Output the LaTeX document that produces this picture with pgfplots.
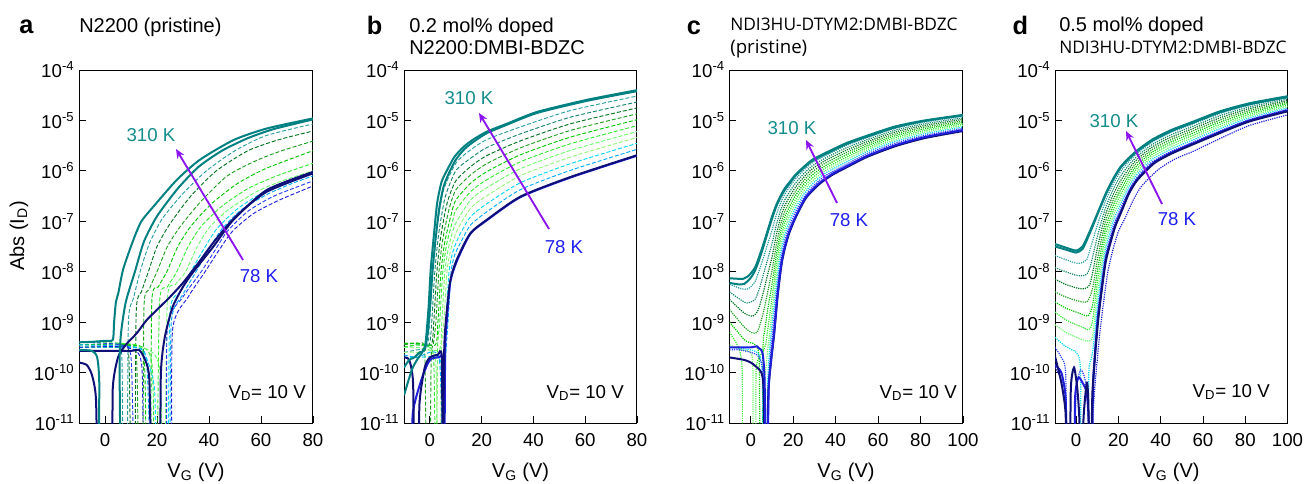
\documentclass[border=0pt]{standalone}
\usepackage{fontspec}
\setmainfont{Liberation Sans}
\newfontfamily\osans{Open Sans}
\usepackage{pgfplots}
\pgfplotsset{compat=1.18}
\usetikzlibrary{arrows.meta}
% y values are log10(|I_D| / A)
\definecolor{cT}{RGB}{0,128,128}
\definecolor{cT1}{RGB}{40,160,160}
\definecolor{cT2}{RGB}{20,135,110}
\definecolor{cDG}{RGB}{0,115,30}
\definecolor{cG}{RGB}{30,160,30}
\definecolor{cG2}{RGB}{0,200,0}
\definecolor{cL}{RGB}{50,235,50}
\definecolor{cL2}{RGB}{110,250,110}
\definecolor{cL3}{RGB}{150,245,120}
\definecolor{cC}{RGB}{0,215,240}
\definecolor{cC2}{RGB}{0,170,255}
\definecolor{cB}{RGB}{40,60,255}
\definecolor{cB2}{RGB}{30,30,220}
\definecolor{cN}{RGB}{15,15,120}
\definecolor{cArr}{RGB}{140,20,240}
\definecolor{cTxtT}{RGB}{20,140,140}
\definecolor{cTxtB}{RGB}{30,30,240}
\tikzset{
  sol/.style={line width=1.5pt},
  dsh/.style={line width=0.7pt, dash pattern=on 3pt off 1.5pt},
  dot/.style={line width=0.9pt, dash pattern=on 0.9pt off 0.8pt},
  lab/.style={inner sep=0pt, font=\fontsize{14}{16}\selectfont},
}
\pgfplotsset{panel/.style={
  scale only axis, height=264.75pt, xmin=-10, ymin=-11, ymax=-4,
  ytick={-11,-10,...,-4},
  yticklabels={10\textsuperscript{-11},10\textsuperscript{-10},10\textsuperscript{-9},10\textsuperscript{-8},10\textsuperscript{-7},10\textsuperscript{-6},10\textsuperscript{-5},10\textsuperscript{-4}},
  tick align=inside, xtick pos=left, ytick pos=left,
  major tick length=5pt, minor tick num=0,
  tick style={black, line width=0.7pt},
  axis line style={black, line width=0.75pt},
  tick label style={font=\fontsize{14}{16}\selectfont, text=black},
  xticklabel style={yshift=-4pt},
  no markers, anchor=south west,
  every axis plot/.append style={smooth, tension=0.4},
}}
\begin{document}
\begin{tikzpicture}[x=0.75pt,y=0.75pt]
\path[use as bounding box] (0,0) rectangle (1307,483);
%%%%%%%%%%%%%%%%%%%% panel a
\begin{axis}[panel, at={(59.25pt,45pt)}, width=175.5pt, xmax=80, xtick={0,20,40,60,80}, xticklabels={0,20,40,60,80}]
\addplot[cT1,dsh] coordinates {(-10,-9.45)(0,-9.45)(5,-9.42)(6.5,-9.7)(7,-12)(8.5,-12)(9,-9.0)(11,-8.52)(13.5,-8.0)(17,-7.45)(22,-6.95)(30,-6.45)(39,-6.0)(50,-5.6)(62,-5.3)(80,-5.07)};
\addplot[cDG,dsh] coordinates {(-10,-9.5)(5,-9.5)(9,-9.55)(10,-12)(11.5,-12)(12,-8.8)(14,-8.4)(16.7,-8.0)(20,-7.5)(25,-7.05)(33,-6.5)(42.8,-6.0)(55,-5.6)(67,-5.38)(80,-5.21)};
\addplot[cG,dsh] coordinates {(-10,-9.5)(8,-9.48)(12,-9.6)(13,-12)(14.5,-12)(15,-8.7)(17,-8.35)(20,-8.0)(24,-7.5)(29,-7.1)(37,-6.6)(47,-6.1)(58,-5.8)(68,-5.6)(80,-5.41)};
\addplot[cG2,dsh] coordinates {(-10,-9.45)(10,-9.45)(15,-9.7)(16,-12)(17.5,-12)(18,-8.6)(20.5,-8.3)(23.8,-8.0)(28,-7.5)(33,-7.1)(41,-6.65)(51,-6.25)(62,-5.95)(80,-5.6)};
\addplot[cL,dsh] coordinates {(-10,-9.4)(12,-9.45)(18,-9.8)(19,-12)(20,-12)(21,-8.6)(24,-8.3)(27.6,-8.0)(32,-7.5)(37,-7.1)(45,-6.7)(55,-6.35)(66,-6.1)(80,-5.85)};
\addplot[cL2,dsh] coordinates {(-10,-9.5)(14,-9.5)(21,-9.9)(22,-12)(23,-12)(24,-8.55)(27,-8.26)(31,-8.0)(35.5,-7.5)(40.5,-7.1)(48,-6.75)(58,-6.42)(68,-6.2)(80,-6.0)};
\addplot[cC,dsh] coordinates {(-10,-9.5)(10,-9.5)(15,-9.6)(19,-10.3)(20,-12)(24,-12)(25,-8.8)(29,-8.4)(33,-8.0)(38,-7.55)(43,-7.15)(51,-6.75)(61,-6.42)(70,-6.22)(80,-6.05)};
\addplot[cC2,dsh] coordinates {(-10,-9.45)(12,-9.5)(16,-9.8)(18,-12)(24.5,-12)(25.5,-9.0)(30,-8.45)(35,-8.0)(40,-7.55)(45,-7.15)(53,-6.75)(63,-6.45)(72,-6.25)(80,-6.1)};
\addplot[cB,dsh] coordinates {(-10,-9.4)(6,-9.45)(10,-9.7)(12,-12)(23,-12)(24,-9.1)(30,-8.5)(37,-8.0)(42,-7.6)(47,-7.2)(55,-6.8)(65,-6.5)(80,-6.2)};
\addplot[cB2,dsh] coordinates {(-10,-9.5)(8,-9.5)(14,-9.8)(15.5,-12)(25,-12)(26,-9.15)(32,-8.5)(38.5,-8.0)(43.5,-7.6)(49,-7.2)(57,-6.85)(67,-6.58)(80,-6.3)};
\addplot[cN,sol] coordinates {(-10,-9.57)(0,-9.57)(10,-9.57)(13,-9.55)(15,-9.7)(17,-10.1)(18,-12)(21,-12)(21.5,-10.0)(23,-9.3)(26,-8.7)(30,-8.3)(34,-8.0)(41.7,-7.5)(49.4,-6.97)(62.2,-6.38)(80,-6.02)};
\addplot[cN,sol] coordinates {(-10,-9.8)(-7,-9.85)(-5,-10.05)(-3.5,-10.5)(-2.5,-12)(2.5,-12)(3,-10.3)(5,-9.7)(8,-9.45)(12.2,-9.22)(16,-8.96)(19.9,-8.76)(25,-8.5)(30,-8.22)(36,-7.82)(42,-7.4)(50,-6.92)(62,-6.42)(80,-6.05)};
\addplot[cT,sol] coordinates {(-10,-9.55)(-5,-9.57)(-3,-9.7)(-2.2,-10.2)(-1.9,-12)(5.4,-12)(5.6,-9.8)(6.2,-9.2)(8,-8.6)(11.5,-8.0)(15,-7.4)(20,-6.9)(28,-6.35)(36,-5.92)(45,-5.6)(55,-5.35)(65,-5.17)(80,-4.98)};
\addplot[cT,sol] coordinates {(-10,-9.40)(-5,-9.39)(0,-9.37)(3,-9.35)(3.5,-9.0)(4.2,-8.6)(5.1,-8.43)(7,-7.95)(10.9,-7.37)(14,-7.0)(18.6,-6.71)(27.6,-6.18)(36.5,-5.78)(49.4,-5.39)(62.2,-5.16)(80,-4.96)};
\end{axis}
%%%%%%%%%%%%%%%%%%%% panel b
\begin{axis}[panel, at={(303pt,45pt)}, width=174.75pt, xmax=80, xtick={0,20,40,60,80}, xticklabels={0,20,40,60,80}]
\addplot[cT1,dsh] coordinates {(-10,-9.6)(-5,-9.55)(-1.1,-9.5)(-0.1,-9.0)(1.1,-8.0)(2.6,-7.2)(5.1,-6.41)(10,-5.85)(15.7,-5.585)(22,-5.379)(35,-5.128)(54.4,-4.802)(80,-4.517)};
\addplot[cT2,dsh] coordinates {(-10,-9.5)(-5,-9.45)(-0.3,-9.45)(0.7,-9.0)(1.9,-8.0)(3.4,-7.25)(5.9,-6.52)(10,-6.0)(15.7,-5.751)(22,-5.538)(35,-5.266)(54.4,-4.934)(80,-4.635)};
\addplot[cDG,dsh] coordinates {(-10,-9.42)(-5,-9.42)(0.5,-9.45)(1.5,-9.0)(2.7,-8.0)(4.2,-7.3)(6.7,-6.63)(10,-6.2)(15.7,-5.916)(22,-5.697)(35,-5.405)(54.4,-5.065)(80,-4.752)};
\addplot[cG,dsh] coordinates {(-10,-9.45)(-4,-9.42)(-2,-9.6)(-1.3,-12)(0,-12)(0.5,-9.7)(1.3,-9.45)(2.3,-9.0)(3.5,-8.0)(5.0,-7.35)(7.5,-6.74)(10,-6.38)(15.7,-6.082)(22,-5.856)(35,-5.543)(54.4,-5.197)(80,-4.869)};
\addplot[cG2,dsh] coordinates {(-10,-9.42)(-5,-9.42)(2.1,-9.45)(3.1,-9.0)(4.3,-8.0)(5.8,-7.4)(8.3,-6.85)(10,-6.58)(15.7,-6.247)(22,-6.015)(35,-5.681)(54.4,-5.329)(80,-4.986)};
\addplot[cL,dsh] coordinates {(-10,-9.5)(-5,-9.45)(0,-9.5)(1.5,-9.8)(2.2,-12)(2.6,-12)(2.9,-9.6)(3.8,-9.0)(5.0,-8.0)(6.5,-7.45)(9.0,-6.95)(10,-6.78)(15.7,-6.413)(22,-6.175)(35,-5.819)(54.4,-5.461)(80,-5.104)};
\addplot[cL2,dsh] coordinates {(-10,-9.5)(-5,-9.5)(3.6,-9.55)(4.6,-9.0)(5.8,-8.0)(7.3,-7.5)(9.8,-7.06)(15.7,-6.578)(22,-6.334)(35,-5.957)(54.4,-5.593)(80,-5.221)};
\addplot[cL3,dsh] coordinates {(-10,-9.6)(-5,-9.6)(2,-9.7)(3,-12)(4,-12)(4.4,-9.6)(5.4,-9.0)(6.6,-8.0)(8.1,-7.55)(10.6,-7.17)(15.7,-6.744)(22,-6.493)(35,-6.095)(54.4,-5.725)(80,-5.338)};
\addplot[cC,dsh] coordinates {(-10,-9.7)(-5,-9.7)(3,-9.7)(4.6,-10.0)(5.0,-12)(5.4,-12)(5.6,-9.8)(6.2,-9.0)(7.4,-8.0)(8.9,-7.6)(11.4,-7.28)(15.7,-6.909)(22,-6.652)(35,-6.234)(54.4,-5.856)(80,-5.455)};
\addplot[cC2,dsh] coordinates {(-10,-9.65)(-5,-9.7)(3.5,-9.7)(5.0,-12)(5.5,-12)(5.8,-10.0)(7.0,-9.0)(8.2,-8.0)(9.7,-7.65)(12.2,-7.39)(15.7,-7.075)(22,-6.811)(35,-6.372)(54.4,-5.988)(80,-5.573)};
\addplot[cB2,sol] coordinates {(-10,-12)(-7,-12)(-6.6,-10.8)(-3,-10.1)(0,-9.75)(3.5,-9.7)(5.0,-9.8)(5.3,-12)(5.6,-12)(5.9,-9.6)(6.5,-9.0)(7.9,-8.2)(10.5,-7.78)(15.6,-7.25)(22,-6.98)(35,-6.52)(54.4,-6.13)(80,-5.70)};
\addplot[cN,sol] coordinates {(-10,-9.7)(-8,-9.75)(-6.5,-10.2)(-6,-12)(-4.5,-12)(-4,-10.6)(-2,-9.9)(0,-9.7)(3,-9.65)(4.6,-9.7)(4.9,-12)(5.2,-12)(5.4,-10.0)(5.8,-9.22)(7.7,-8.23)(10.3,-7.77)(15.6,-7.24)(22,-6.97)(35,-6.51)(54.4,-6.12)(80,-5.69)};
\addplot[cT,sol] coordinates {(-10,-9.9)(-8,-9.75)(-6,-9.7)(-4,-9.6)(-2,-9.55)(-0.8,-9.2)(0.2,-8.6)(1,-8.0)(2.2,-7.35)(3.6,-6.75)(5.2,-6.33)(7.3,-6.05)(10,-5.78)(13.5,-5.56)(17.5,-5.40)(22.1,-5.25)(30,-5.08)(41.5,-4.85)(60.8,-4.61)(80,-4.42)};
\addplot[cT,sol] coordinates {(-10,-10.45)(-7,-9.95)(-5,-9.75)(-3,-9.6)(-1.7,-9.42)(-0.5,-8.7)(0.3,-7.97)(1.5,-7.3)(2.8,-6.64)(4.5,-6.22)(6.7,-5.98)(9.5,-5.72)(13.1,-5.52)(17,-5.37)(22.1,-5.22)(30,-5.06)(41.5,-4.83)(60.8,-4.59)(80,-4.40)};
\end{axis}
%%%%%%%%%%%%%%%%%%%% panel c
\begin{axis}[panel, at={(547.125pt,45pt)}, width=175.1pt, xmax=100, xtick={0,20,40,60,80,100}, xticklabels={0,20,40,60,80,100}]
\addplot[cT1,dot] coordinates {(-10,-8.25)(-5,-8.33)(-2,-8.35)(0,-8.3)(2,-8.2)(4,-7.98)(6,-7.72)(8,-7.45)(10,-7.18)(12,-6.88)(14,-6.645)(16,-6.465)(18,-6.34)(21,-6.163)(25,-5.988)(29,-5.84)(35,-5.70)(45,-5.497)(55,-5.34)(68,-5.157)(82,-5.033)(100,-4.92)};
\addplot[cT2,dot] coordinates {(-10,-8.4)(-5,-8.55)(-2,-8.62)(0,-8.6)(2,-8.55)(4,-8.35)(6,-8.05)(8,-7.75)(10,-7.448)(12,-7.084)(14,-6.79)(16,-6.58)(18,-6.436)(21,-6.246)(25,-6.056)(29,-5.90)(35,-5.75)(45,-5.544)(55,-5.38)(68,-5.194)(82,-5.066)(100,-4.95)};
\addplot[cDG,dot] coordinates {(-10,-8.55)(-5,-8.75)(-2,-8.85)(1,-8.88)(3,-8.8)(4,-8.7)(6,-8.4)(8,-8.05)(10,-7.717)(12,-7.286)(14,-6.935)(16,-6.695)(18,-6.534)(21,-6.329)(25,-6.124)(29,-5.96)(35,-5.80)(45,-5.591)(55,-5.42)(68,-5.231)(82,-5.099)(100,-4.98)};
\addplot[cG,dot] coordinates {(-10,-8.75)(-6,-8.95)(-3,-9.1)(0,-9.2)(2,-9.22)(3,-9.2)(4,-9.1)(6,-8.8)(8,-8.4)(10,-7.986)(12,-7.488)(14,-7.08)(16,-6.81)(18,-6.632)(21,-6.412)(25,-6.192)(29,-6.02)(35,-5.85)(45,-5.638)(55,-5.46)(68,-5.268)(82,-5.132)(100,-5.01)};
\addplot[cG2,dot] coordinates {(-10,-9.0)(-6,-9.2)(-3,-9.35)(-1,-9.4)(1,-9.42)(3,-9.5)(4,-9.8)(4.5,-12)(5.5,-12)(5.8,-9.5)(6.5,-9.2)(8,-8.75)(10,-8.255)(12,-7.69)(14,-7.225)(16,-6.925)(18,-6.73)(21,-6.495)(25,-6.26)(29,-6.08)(35,-5.90)(45,-5.685)(55,-5.50)(68,-5.305)(82,-5.165)(100,-5.04)};
\addplot[cL,dot] coordinates {(-10,-9.2)(-7,-9.4)(-5,-9.6)(-4,-10.0)(-3.5,-12)(2,-12)(2.5,-10.0)(4,-9.7)(5.5,-9.6)(7,-9.45)(8,-9.15)(10,-8.524)(12,-7.892)(14,-7.37)(16,-7.04)(18,-6.828)(21,-6.578)(25,-6.328)(29,-6.14)(35,-5.95)(45,-5.732)(55,-5.54)(68,-5.342)(82,-5.198)(100,-5.07)};
\addplot[cL2,dot] coordinates {(-10,-9.45)(-7,-9.5)(-4,-9.55)(0,-9.6)(1,-9.9)(1.5,-12)(6.0,-12)(6.5,-10.2)(7,-10.0)(8,-9.55)(10,-8.793)(12,-8.094)(14,-7.515)(16,-7.155)(18,-6.926)(21,-6.661)(25,-6.396)(29,-6.20)(35,-6.00)(45,-5.779)(55,-5.58)(68,-5.379)(82,-5.231)(100,-5.10)};
\addplot[cC,dot] coordinates {(-10,-9.5)(-5,-9.52)(0,-9.55)(3,-9.6)(4.5,-9.7)(5.5,-10.1)(6.0,-12)(7.5,-12)(8,-10.2)(9,-9.5)(10,-9.062)(12,-8.296)(14,-7.66)(16,-7.27)(18,-7.024)(21,-6.744)(25,-6.464)(29,-6.26)(35,-6.05)(45,-5.826)(55,-5.62)(68,-5.416)(82,-5.264)(100,-5.13)};
\addplot[cB,dot] coordinates {(-10,-9.55)(-5,-9.55)(0,-9.6)(3,-9.65)(5,-9.8)(6,-10.2)(6.5,-12)(8,-12)(8.3,-10.5)(9,-9.8)(10,-9.331)(12,-8.498)(14,-7.805)(16,-7.385)(18,-7.122)(21,-6.827)(25,-6.532)(29,-6.32)(35,-6.10)(45,-5.873)(55,-5.66)(68,-5.453)(82,-5.297)(100,-5.16)};
\addplot[cN,sol] coordinates {(-10,-9.7)(-7,-9.72)(-3,-9.75)(0,-9.8)(3,-9.9)(5,-10.0)(6,-10.3)(6.8,-12)(7.6,-12)(8.3,-10.4)(9.5,-9.8)(11,-9.25)(12.7,-8.47)(14.5,-7.86)(16,-7.55)(18,-7.25)(21.1,-6.93)(26,-6.54)(32.1,-6.27)(38,-6.09)(44.7,-5.94)(55,-5.72)(68.2,-5.51)(82,-5.35)(100,-5.21)};
\addplot[cB2,sol] coordinates {(-10,-9.5)(-5,-9.5)(0,-9.5)(3,-9.48)(4,-9.52)(5.5,-9.6)(6.5,-10.1)(7.2,-12)(7.8,-12)(8.5,-10.3)(9.6,-9.75)(11,-9.22)(12.7,-8.43)(14.5,-7.82)(16,-7.52)(18,-7.22)(21.1,-6.91)(26,-6.52)(32.1,-6.25)(38,-6.07)(44.7,-5.92)(55,-5.70)(68.2,-5.49)(82,-5.33)(100,-5.19)};
\addplot[cT,sol] coordinates {(-10,-8.22)(-6,-8.25)(-3,-8.24)(0,-8.12)(2,-7.98)(4,-7.76)(6,-7.50)(8,-7.22)(10,-6.95)(12,-6.71)(14,-6.53)(16,-6.38)(18,-6.27)(21,-6.10)(25,-5.94)(29,-5.80)(35,-5.67)(45,-5.47)(55,-5.32)(68,-5.14)(82,-5.01)(100,-4.90)};
\addplot[cT,sol] coordinates {(-10,-8.13)(-6,-8.14)(-3.6,-8.14)(-1,-8.08)(2,-7.92)(4,-7.70)(6,-7.45)(8,-7.18)(10,-6.91)(12,-6.68)(14,-6.50)(16,-6.35)(18,-6.24)(21,-6.08)(25,-5.92)(29,-5.78)(35,-5.65)(45,-5.45)(55,-5.30)(68,-5.12)(82,-5.00)(100,-4.89)};
\end{axis}
%%%%%%%%%%%%%%%%%%%% panel d
\begin{axis}[panel, at={(791.25pt,45pt)}, width=174.4pt, xmax=100, xtick={0,20,40,60,80,100}, xticklabels={0,20,40,60,80,100}]
\addplot[cT1,dot] coordinates {(-10,-7.68)(-5,-7.76)(0,-7.83)(3,-7.82)(5,-7.76)(6,-7.64)(8,-7.36)(10,-7.08)(12,-6.825)(14,-6.585)(16,-6.397)(18,-6.223)(21,-6.012)(25,-5.811)(29,-5.649)(36,-5.429)(45,-5.237)(55,-5.075)(68,-4.863)(82,-4.696)(100,-4.549)};
\addplot[cT2,dot] coordinates {(-10,-7.92)(-5,-8.0)(0,-8.07)(3,-8.08)(5,-8.05)(6.5,-7.92)(8,-7.67)(10,-7.31)(12,-7.0)(14,-6.72)(16,-6.514)(18,-6.326)(21,-6.104)(25,-5.882)(29,-5.708)(36,-5.478)(45,-5.284)(55,-5.12)(68,-4.906)(82,-4.732)(100,-4.578)};
\addplot[cDG,dot] coordinates {(-10,-8.15)(-5,-8.25)(0,-8.32)(3,-8.34)(5,-8.32)(6.5,-8.25)(8,-7.98)(10,-7.54)(12,-7.175)(14,-6.855)(16,-6.631)(18,-6.429)(21,-6.196)(25,-5.953)(29,-5.767)(36,-5.527)(45,-5.331)(55,-5.165)(68,-4.949)(82,-4.768)(100,-4.607)};
\addplot[cG,dot] coordinates {(-10,-8.4)(-5,-8.5)(0,-8.57)(3,-8.6)(5,-8.6)(6.5,-8.5)(8,-8.29)(10,-7.77)(12,-7.35)(14,-6.99)(16,-6.748)(18,-6.532)(21,-6.288)(25,-6.024)(29,-5.826)(36,-5.576)(45,-5.378)(55,-5.21)(68,-4.992)(82,-4.804)(100,-4.636)};
\addplot[cG2,dot] coordinates {(-10,-8.6)(-5,-8.72)(0,-8.8)(3,-8.85)(5.5,-8.88)(7,-8.78)(8,-8.6)(10,-8.0)(12,-7.525)(14,-7.125)(16,-6.865)(18,-6.635)(21,-6.38)(25,-6.095)(29,-5.885)(36,-5.625)(45,-5.425)(55,-5.255)(68,-5.035)(82,-4.84)(100,-4.665)};
\addplot[cL,dot] coordinates {(-10,-8.8)(-5,-8.95)(0,-9.05)(3,-9.1)(5.5,-9.15)(7,-9.1)(8,-8.91)(10,-8.23)(12,-7.70)(14,-7.26)(16,-6.982)(18,-6.738)(21,-6.472)(25,-6.166)(29,-5.944)(36,-5.674)(45,-5.472)(55,-5.30)(68,-5.078)(82,-4.876)(100,-4.694)};
\addplot[cL2,dot] coordinates {(-10,-9.05)(-5,-9.2)(0,-9.3)(3,-9.35)(6,-9.38)(7.2,-9.35)(8,-9.22)(10,-8.46)(12,-7.875)(14,-7.395)(16,-7.099)(18,-6.841)(21,-6.564)(25,-6.237)(29,-6.003)(36,-5.723)(45,-5.519)(55,-5.345)(68,-5.121)(82,-4.912)(100,-4.723)};
\addplot[cC,dot] coordinates {(-10,-9.3)(-6,-9.45)(-2,-9.55)(0,-9.6)(2,-9.9)(2.5,-12)(5.5,-12)(6,-10.0)(7,-9.75)(8,-9.53)(10,-8.69)(12,-8.05)(14,-7.53)(16,-7.216)(18,-6.944)(21,-6.656)(25,-6.308)(29,-6.062)(36,-5.772)(45,-5.566)(55,-5.39)(68,-5.164)(82,-4.948)(100,-4.752)};
\addplot[cB,dot] coordinates {(-10,-9.5)(-7,-9.7)(-5,-10.0)(-4,-12)(-1,-12)(0,-10.4)(2,-9.95)(4,-10.1)(5.5,-10.6)(6,-12)(7.3,-12)(7.8,-10.3)(8.5,-9.7)(10,-8.92)(12,-8.225)(14,-7.665)(16,-7.333)(18,-7.047)(21,-6.748)(25,-6.379)(29,-6.121)(36,-5.821)(45,-5.613)(55,-5.435)(68,-5.207)(82,-4.984)(100,-4.781)};
\addplot[cB2,dot] coordinates {(-10,-9.9)(-5,-10.4)(-4,-12)(6,-12)(8,-10.8)(9,-10.2)(11,-9.3)(13,-8.6)(15,-8.0)(17.5,-7.55)(20,-7.2)(23,-6.95)(27,-6.58)(31,-6.3)(39,-5.97)(47,-5.76)(55,-5.62)(68,-5.36)(82,-5.1)(100,-4.89)};
\addplot[cB2,sol] coordinates {(-10,-9.85)(-7,-10.0)(-5,-10.5)(-4,-12)(-1,-12)(-0.5,-10.5)(1,-10.1)(3,-10.2)(5,-10.4)(6,-11)(6.5,-12)(7.5,-12)(8,-10.3)(10.1,-9.0)(12,-8.35)(14,-7.75)(16.4,-7.37)(18.5,-7.08)(21.1,-6.82)(25,-6.43)(29,-6.16)(36.9,-5.83)(45,-5.64)(52.7,-5.50)(68,-5.23)(82,-5.00)(100,-4.80)};
\addplot[cN,sol] coordinates {(-10,-9.68)(-7,-10.2)(-5,-10.8)(-4.5,-12)(-3,-12)(-2.5,-10.3)(-1,-9.9)(0.5,-10.3)(1.5,-10.9)(2,-12)(3,-12)(3.5,-10.9)(5,-10.2)(5.7,-10.5)(6.5,-12)(7.2,-12)(7.7,-10.4)(10.1,-9.1)(12,-8.4)(14,-7.8)(16.4,-7.4)(18.5,-7.1)(21.1,-6.84)(25,-6.45)(29,-6.18)(36.9,-5.85)(45,-5.66)(52.7,-5.52)(68,-5.25)(82,-5.02)(100,-4.82)};
\addplot[cT,sol] coordinates {(-10,-7.5)(-5,-7.56)(0,-7.62)(3,-7.55)(5.3,-7.35)(8,-7.08)(10,-6.87)(12,-6.67)(14,-6.47)(16,-6.30)(18,-6.14)(21,-5.94)(25,-5.76)(29,-5.61)(36,-5.40)(45,-5.21)(55,-5.05)(68,-4.84)(82,-4.68)(100,-4.54)};
\addplot[cT,sol] coordinates {(-10,-7.45)(-5,-7.52)(0,-7.58)(3,-7.5)(5.3,-7.31)(8,-7.05)(10,-6.85)(12,-6.65)(14,-6.45)(16,-6.28)(18,-6.12)(21,-5.92)(25,-5.74)(29,-5.59)(36,-5.38)(45,-5.19)(55,-5.03)(68,-4.82)(82,-4.66)(100,-4.52)};
\end{axis}
%%%%%%%%%%%%%%%%%%%% annotations
\node[inner sep=0pt, anchor=base west, font=\fontsize{19}{20}\selectfont\bfseries] at (19,449) {a};
\node[inner sep=0pt, anchor=base west, font=\fontsize{15}{16}\selectfont] at (79,450) {N2200 (pristine)};
\node[inner sep=0pt, anchor=base west, font=\fontsize{19}{20}\selectfont\bfseries] at (366.7,448) {b};
\node[inner sep=0pt, anchor=base west, font=\fontsize{15}{16}\selectfont] at (409,450) {0.2 mol\% doped};
\node[inner sep=0pt, anchor=base west, font=\fontsize{15}{16}\selectfont] at (409,428) {N2200:DMBI-BDZC};
\node[inner sep=0pt, anchor=base west, font=\fontsize{19}{20}\selectfont\bfseries] at (686.7,448) {c};
\node[inner sep=0pt, anchor=base west, font=\osans\fontsize{13}{14}\selectfont] at (730,452) {NDI3HU-DTYM2:DMBI-BDZC};
\node[inner sep=0pt, anchor=base west, font=\osans\fontsize{14}{15}\selectfont] at (730,429) {(pristine)};
\node[inner sep=0pt, anchor=base west, font=\fontsize{19}{20}\selectfont\bfseries] at (1012.3,448) {d};
\node[inner sep=0pt, anchor=base west, font=\fontsize{15}{16}\selectfont] at (1059,451) {0.5 mol\% doped};
\node[inner sep=0pt, anchor=base west, font=\osans\fontsize{13}{14}\selectfont] at (1059,429) {NDI3HU-DTYM2:DMBI-BDZC};
\node[inner sep=0pt, rotate=90, font=\fontsize{15}{16}\selectfont] at (19,247) {Abs (I\textsubscript{D})};
\foreach \xc in {196,520.5,846,1171}{
  \node[inner sep=0pt, anchor=base, font=\fontsize{15}{16}\selectfont] at (\xc,6) {V\textsubscript{G} (V)};
}
\node[lab, anchor=base east] at (306,85) {V\textsubscript{D}= 10 V};
\node[lab, anchor=base east] at (624,85) {V\textsubscript{D}= 10 V};
\node[lab, anchor=base east] at (957,85) {V\textsubscript{D}= 10 V};
\node[lab, anchor=base east] at (1270,86) {V\textsubscript{D}= 10 V};
\node[lab, text=cTxtT] at (151,348) {310 K};
\node[lab, text=cTxtB] at (259,207) {78 K};
\draw[cArr, line width=1.4pt, -{Stealth[length=7pt,width=6pt]}] (243,223) -- (176,334);
\node[lab, text=cTxtT] at (469,385) {310 K};
\node[lab, text=cTxtB] at (564,236) {78 K};
\draw[cArr, line width=1.4pt, -{Stealth[length=7pt,width=6pt]}] (549,254) -- (479,370);
\node[lab, text=cTxtT] at (792,355) {310 K};
\node[lab, text=cTxtB] at (849,263) {78 K};
\draw[cArr, line width=1.4pt, -{Stealth[length=7pt,width=6pt]}] (837,280) -- (806,343);
\node[lab, text=cTxtT] at (1114,362) {310 K};
\node[lab, text=cTxtB] at (1177,264) {78 K};
\draw[cArr, line width=1.4pt, -{Stealth[length=7pt,width=6pt]}] (1162,279) -- (1126,352);
\end{tikzpicture}
\end{document}
